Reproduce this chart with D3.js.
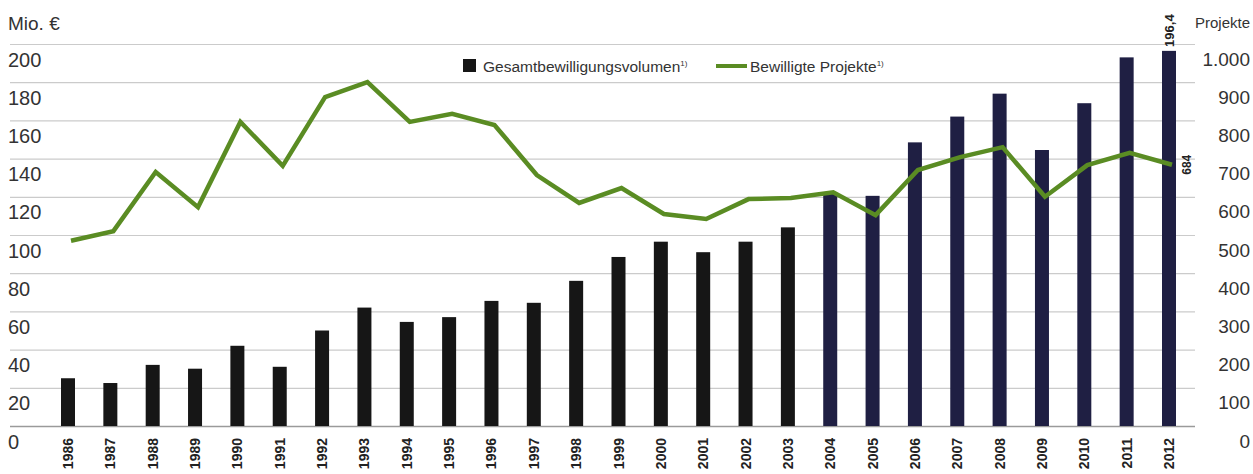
<!DOCTYPE html>
<html>
<head>
<meta charset="utf-8">
<script src="https://cdn.jsdelivr.net/npm/d3@7"></script>
<style>
  html, body { margin: 0; padding: 0; background: #fff; }
  svg { display: block; font-family: "Liberation Sans", Arial, Helvetica, sans-serif; }
</style>
</head>
<body>
<svg id="chart" width="1253" height="474"></svg>
<script>
// Fördervolumen (Mio. €) und Anzahl bewilligter Projekte je Jahr
const years = ["1986","1987","1988","1989","1990","1991","1992","1993","1994","1995",
  "1996","1997","1998","1999","2000","2001","2002","2003","2004","2005",
  "2006","2007","2008","2009","2010","2011","2012"];
const volume = [25, 22.5, 32, 30, 42, 31, 50, 62, 54.5, 57,
  65.5, 64.5, 76, 88.5, 96.5, 91, 96.5, 104, 122, 120.5,
  148.5, 162, 174, 144.5, 169, 193, 196.4];
const projects = [485, 510, 665, 573, 796, 681, 861, 900, 796, 817,
  788, 657, 584, 623, 555, 542, 594, 597, 612, 552,
  670, 704, 730, 600, 683, 715, 684];
const leftTicks = [0, 20, 40, 60, 80, 100, 120, 140, 160, 180, 200];
const rightTicks = [0, 100, 200, 300, 400, 500, 600, 700, 800, 900, 1000];
const legendLabels = ["Gesamtbewilligungsvolumen", "Bewilligte Projekte"];

const de = d3.formatLocale({ decimal: ",", thousands: ".", grouping: [3], currency: ["", " €"] });
const fmtInt = de.format(",d");
const fmtDec = de.format(",.1f");

const svg = d3.select("#chart");
const gridLeft = 10, gridRight = 1195;
const baseY = 426, topY = 44;

const x = d3.scalePoint().domain(years).range([68, 1169]);
const yL = d3.scaleLinear().domain([0, 200]).range([baseY, topY]);
const yR = d3.scaleLinear().domain([0, 1000]).range([baseY, topY]);
const barW = 14;
const navyFrom = 2004;
const lineShift = 3;

// Gitterlinien + linke Achse
const gLeft = svg.append("g").attr("transform", `translate(${gridLeft},0)`)
  .call(d3.axisRight(yL).tickValues(leftTicks).tickSize(gridRight - gridLeft).tickFormat(fmtInt));
gLeft.select(".domain").remove();
gLeft.selectAll(".tick line").attr("stroke", d => d === 0 ? "#9a9a9a" : "#cbcbcb").attr("stroke-width", d => d === 0 ? 1.5 : 1.2);
gLeft.selectAll(".tick text")
  .attr("x", -2).attr("dy", 0).attr("y", 22)
  .attr("text-anchor", "start")
  .attr("font-size", 20).attr("fill", "#333").attr("font-family", "inherit");

// rechte Achse (Projekte)
const gRight = svg.append("g").attr("transform", "translate(1250,0)")
  .call(d3.axisLeft(yR).tickValues(rightTicks).tickSize(0).tickFormat(fmtInt));
gRight.select(".domain").remove();
gRight.selectAll(".tick text")
  .attr("x", 0).attr("dy", 0).attr("y", 21)
  .attr("text-anchor", "end")
  .attr("font-size", 19).attr("fill", "#333").attr("font-family", "inherit");

// Achsentitel
svg.append("text").attr("x", 8).attr("y", 30).attr("font-size", 19).attr("fill", "#333").text("Mio. €");
svg.append("text").attr("x", 1250).attr("y", 28).attr("text-anchor", "end").attr("font-size", 15).attr("fill", "#333").text("Projekte");

// Balken
const rows = years.map((yr, i) => ({ yr, v: volume[i], p: projects[i] }));
svg.append("g").selectAll("rect").data(rows).join("rect")
  .attr("x", d => x(d.yr) - barW / 2)
  .attr("y", d => yL(d.v))
  .attr("width", barW)
  .attr("height", d => yL(0) - yL(d.v))
  .attr("fill", d => +d.yr >= navyFrom ? "#1f1f43" : "#161616");

// Linie: bewilligte Projekte
const line = d3.line().x(d => x(d.yr) + lineShift).y(d => yR(d.p));
svg.append("path").datum(rows)
  .attr("d", line)
  .attr("fill", "none")
  .attr("stroke", "#5a8c23")
  .attr("stroke-width", 4.5)
  .attr("stroke-linejoin", "miter");

// Jahresbeschriftung
svg.append("g").selectAll("text").data(years).join("text")
  .attr("transform", d => `translate(${x(d) + 5},438) rotate(-90)`)
  .attr("text-anchor", "end")
  .attr("font-size", 14)
  .attr("font-weight", "bold")
  .attr("fill", "#222")
  .text(d => d);

// Wertelabels für das letzte Jahr
const last = rows[rows.length - 1];
svg.append("text")
  .attr("transform", `translate(${x(last.yr) + 5},${yL(last.v) - 4}) rotate(-90)`)
  .attr("text-anchor", "start")
  .attr("font-size", 13).attr("font-weight", "bold").attr("fill", "#222")
  .text(fmtDec(last.v));
svg.append("text")
  .attr("transform", `translate(${x(last.yr) + 22},${yR(last.p)}) rotate(-90)`)
  .attr("text-anchor", "middle")
  .attr("font-size", 12).attr("font-weight", "bold").attr("fill", "#222")
  .text(fmtInt(last.p));

// Legende
const lg = svg.append("g");
lg.append("rect").attr("x", 463).attr("y", 59).attr("width", 13).attr("height", 13).attr("fill", "#161616");
const t1 = lg.append("text").attr("x", 483).attr("y", 72).attr("font-size", 15.5).attr("fill", "#333");
t1.append("tspan").text(legendLabels[0]);
t1.append("tspan").attr("font-size", 8).attr("dy", -6).text("1)");
lg.append("line").attr("x1", 716).attr("x2", 747).attr("y1", 66).attr("y2", 66)
  .attr("stroke", "#5a8c23").attr("stroke-width", 4);
const t2 = lg.append("text").attr("x", 750).attr("y", 72).attr("font-size", 15.5).attr("fill", "#333");
t2.append("tspan").text(legendLabels[1]);
t2.append("tspan").attr("font-size", 8).attr("dy", -6).text("1)");
</script>
</body>
</html>
